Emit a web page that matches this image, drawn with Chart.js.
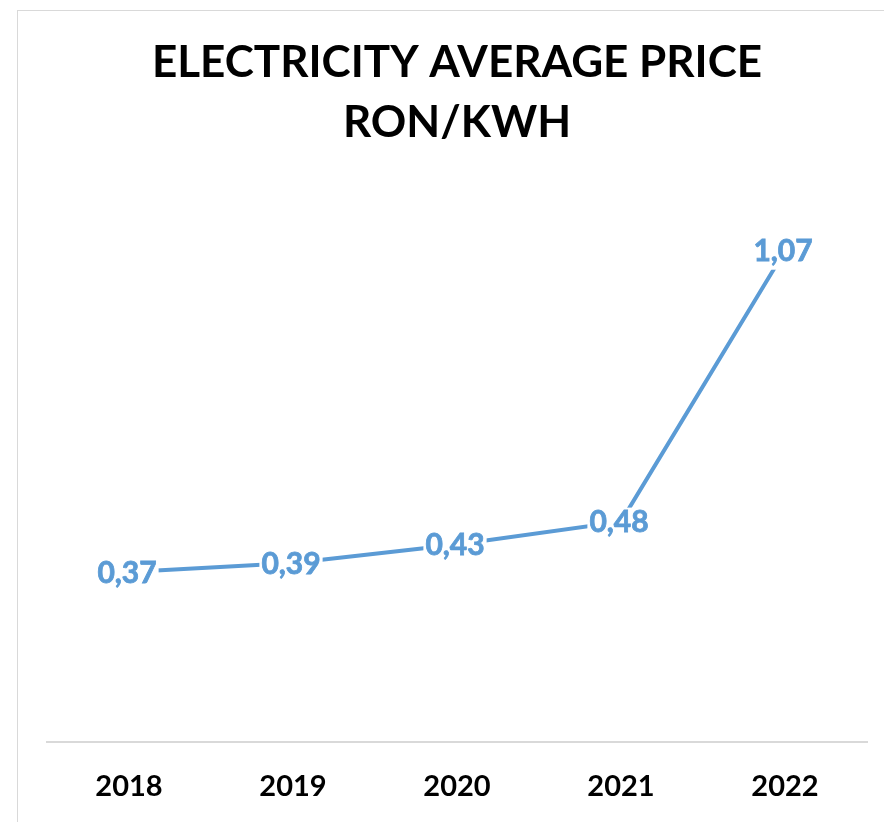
<!DOCTYPE html>
<html><head><meta charset="utf-8">
<script src="https://cdn.jsdelivr.net/npm/chart.js@4.4.1/dist/chart.umd.min.js"></script>
<style>
html,body{margin:0;padding:0;background:#fff;}
#wrap{position:absolute;left:0;top:0;width:884px;height:822px;}
#frame{position:absolute;left:17px;top:10px;width:900px;height:900px;border-left:1px solid #d9d9d9;border-top:1px solid #d9d9d9;pointer-events:none;}
</style></head>
<body>
<div id="wrap"><canvas id="c" width="884" height="822"></canvas></div>
<div id="frame"></div>
<script>
const categories = ['2018','2019','2020','2021','2022'];
const prices = [0.37, 0.39, 0.43, 0.48, 1.07];
const titleLines = ['ELECTRICITY AVERAGE PRICE','RON/KWH'];
const BLUE = '#5B9BD5';
const FONT = 'Lato, "Open Sans", sans-serif';

const labelPlugin = {
  id: 'ptLabels',
  afterDatasetsDraw(chart){
    const ctx = chart.ctx;
    const meta = chart.getDatasetMeta(0);
    ctx.save();
    ctx.font = 'bold 30px ' + FONT;
    ctx.textAlign = 'center';
    ctx.textBaseline = 'middle';
    meta.data.forEach((pt, i) => {
      const txt = prices[i].toFixed(2).replace('.', ',');
      const w = ctx.measureText(txt).width;
      const x = pt.x - 2, y = pt.y + 1;
      ctx.fillStyle = '#fff';
      ctx.fillRect(x - w/2 - 2, y - 15, w + 4, 33);
      ctx.fillStyle = BLUE;
      ctx.lineWidth = 0.8;
      ctx.strokeStyle = BLUE;
      ctx.fillText(txt, x, y);
      ctx.strokeText(txt, x, y);
    });
    ctx.restore();
  }
};

new Chart(document.getElementById('c'), {
  type: 'line',
  data: {
    labels: categories,
    datasets: [{
      data: prices,
      borderColor: BLUE,
      borderWidth: 4,
      pointRadius: 0,
      tension: 0,
      fill: false
    }]
  },
  options: {
    responsive: false,
    animation: false,
    layout: { padding: { left: 47, right: 17, top: 0, bottom: 0 } },
    plugins: {
      legend: { display: false },
      tooltip: { enabled: false },
      title: {
        display: true,
        text: titleLines,
        color: '#000',
        font: { family: FONT, size: 44, weight: 'bold', lineHeight: 1.364 },
        padding: { top: 33, bottom: 38 }
      }
    },
    scales: {
      x: {
        offset: true,
        grid: { display: false, drawTicks: false },
        border: { display: true, color: '#d9d9d9', width: 2 },
        ticks: { color: '#000', padding: 27, font: { family: FONT, size: 29, weight: 'bold', lineHeight: 1.2 } },
        afterFit(scale){ scale.height = 80; }
      },
      y: {
        display: false,
        min: 0,
        max: 1.2
      }
    }
  },
  plugins: [labelPlugin]
});
</script>
</body></html>
